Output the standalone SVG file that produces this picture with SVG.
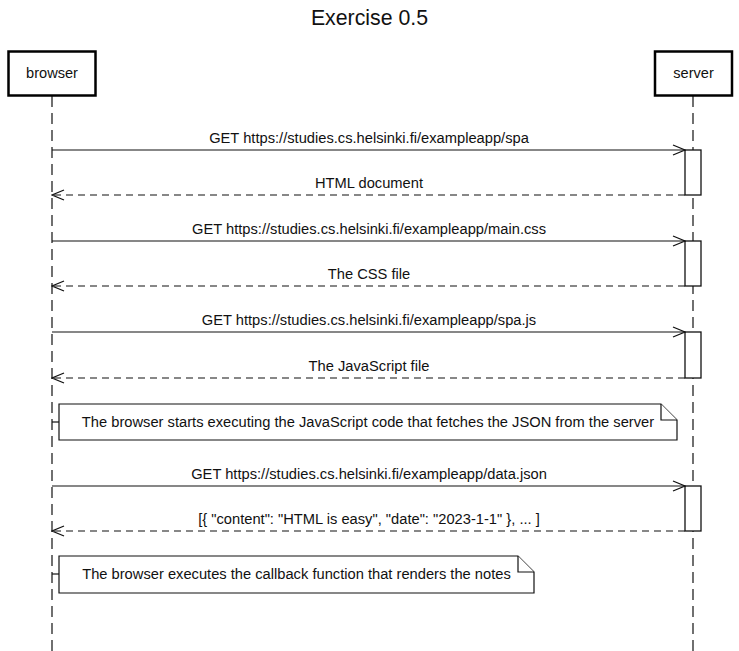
<svg xmlns="http://www.w3.org/2000/svg" width="739" height="651" viewBox="0 0 739 651">
<defs>
<style>
text{font-family:"Liberation Sans",Arial,sans-serif;fill:#111;}
.t{font-size:21.3px;text-anchor:middle;}
.a{font-size:14.6px;text-anchor:middle;}
.m{font-size:14.7px;text-anchor:middle;}
.n{font-size:14.7px;}
.box{fill:#fff;stroke:#000;stroke-width:2.5;}
.life{stroke:#111;stroke-width:1.2;stroke-dasharray:11 6;fill:none;}
.act{fill:#fff;stroke:#111;stroke-width:1.3;}
.msg{stroke:#111;stroke-width:1.2;fill:none;}
.ret{stroke:#111;stroke-width:1.2;fill:none;stroke-dasharray:7 5;}
.note{fill:#fff;stroke:#111;stroke-width:1.2;}
</style>
<marker id="ah" viewBox="0 0 14 12" refX="13" refY="6" markerWidth="14" markerHeight="12" markerUnits="userSpaceOnUse" orient="auto">
<path d="M1,1 L13,6 L1,11" fill="none" stroke="#111" stroke-width="1.3"/>
</marker>
</defs>
<rect width="739" height="651" fill="#fff"/>
<text class="t" x="369.5" y="25">Exercise 0.5</text>
<g id="lifelines">
<line class="life" x1="52" y1="96" x2="52" y2="651"/>
<line class="life" x1="693" y1="96" x2="693" y2="651"/>
</g>
<g id="browser">
<rect class="box" x="8.5" y="51.5" width="87" height="44"/>
<text class="a" x="52" y="78">browser</text>
</g>
<g id="server">
<rect class="box" x="655" y="51.5" width="77" height="44"/>
<text class="a" x="693.5" y="78">server</text>
</g>
<g id="activations">
<rect class="act" x="685" y="150" width="16" height="45"/>
<rect class="act" x="685" y="241" width="16" height="45"/>
<rect class="act" x="685" y="332" width="16" height="46"/>
<rect class="act" x="685" y="486" width="16" height="45"/>
</g>
<g id="connectors">
<line class="msg" x1="52" y1="150" x2="685" y2="150" marker-end="url(#ah)"/>
<line class="ret" x1="685" y1="195" x2="52" y2="195" marker-end="url(#ah)"/>
<line class="msg" x1="52" y1="241" x2="685" y2="241" marker-end="url(#ah)"/>
<line class="ret" x1="685" y1="286" x2="52" y2="286" marker-end="url(#ah)"/>
<line class="msg" x1="52" y1="332" x2="685" y2="332" marker-end="url(#ah)"/>
<line class="ret" x1="685" y1="378" x2="52" y2="378" marker-end="url(#ah)"/>
<line class="msg" x1="52" y1="486" x2="685" y2="486" marker-end="url(#ah)"/>
<line class="ret" x1="685" y1="531" x2="52" y2="531" marker-end="url(#ah)"/>
<line class="msg" x1="52" y1="422" x2="59" y2="422"/>
<line class="msg" x1="52" y1="574" x2="59" y2="574"/>
</g>
<g id="labels">
<text class="m" x="369" y="143">GET https://studies.cs.helsinki.fi/exampleapp/spa</text>
<text class="m" x="369" y="188">HTML document</text>
<text class="m" x="369" y="234">GET https://studies.cs.helsinki.fi/exampleapp/main.css</text>
<text class="m" x="369" y="279">The CSS file</text>
<text class="m" x="369" y="325">GET https://studies.cs.helsinki.fi/exampleapp/spa.js</text>
<text class="m" x="369" y="371">The JavaScript file</text>
<text class="m" x="369" y="479">GET https://studies.cs.helsinki.fi/exampleapp/data.json</text>
<text class="m" x="369" y="524">[{ "content": "HTML is easy", "date": "2023-1-1" }, ... ]</text>
</g>
<g id="note1">
<path class="note" d="M59,404 H661 L677,420 V440 H59 Z"/>
<path class="note" d="M661,404 V420 H677" fill="none"/>
<text class="n" x="368" y="427" text-anchor="middle">The browser starts executing the JavaScript code that fetches the JSON from the server</text>
</g>
<g id="note2">
<path class="note" d="M59,556 H518 L534,572 V593 H59 Z"/>
<path class="note" d="M518,556 V572 H534" fill="none"/>
<text class="n" x="296.5" y="579" text-anchor="middle">The browser executes the callback function that renders the notes</text>
</g>
</svg>
